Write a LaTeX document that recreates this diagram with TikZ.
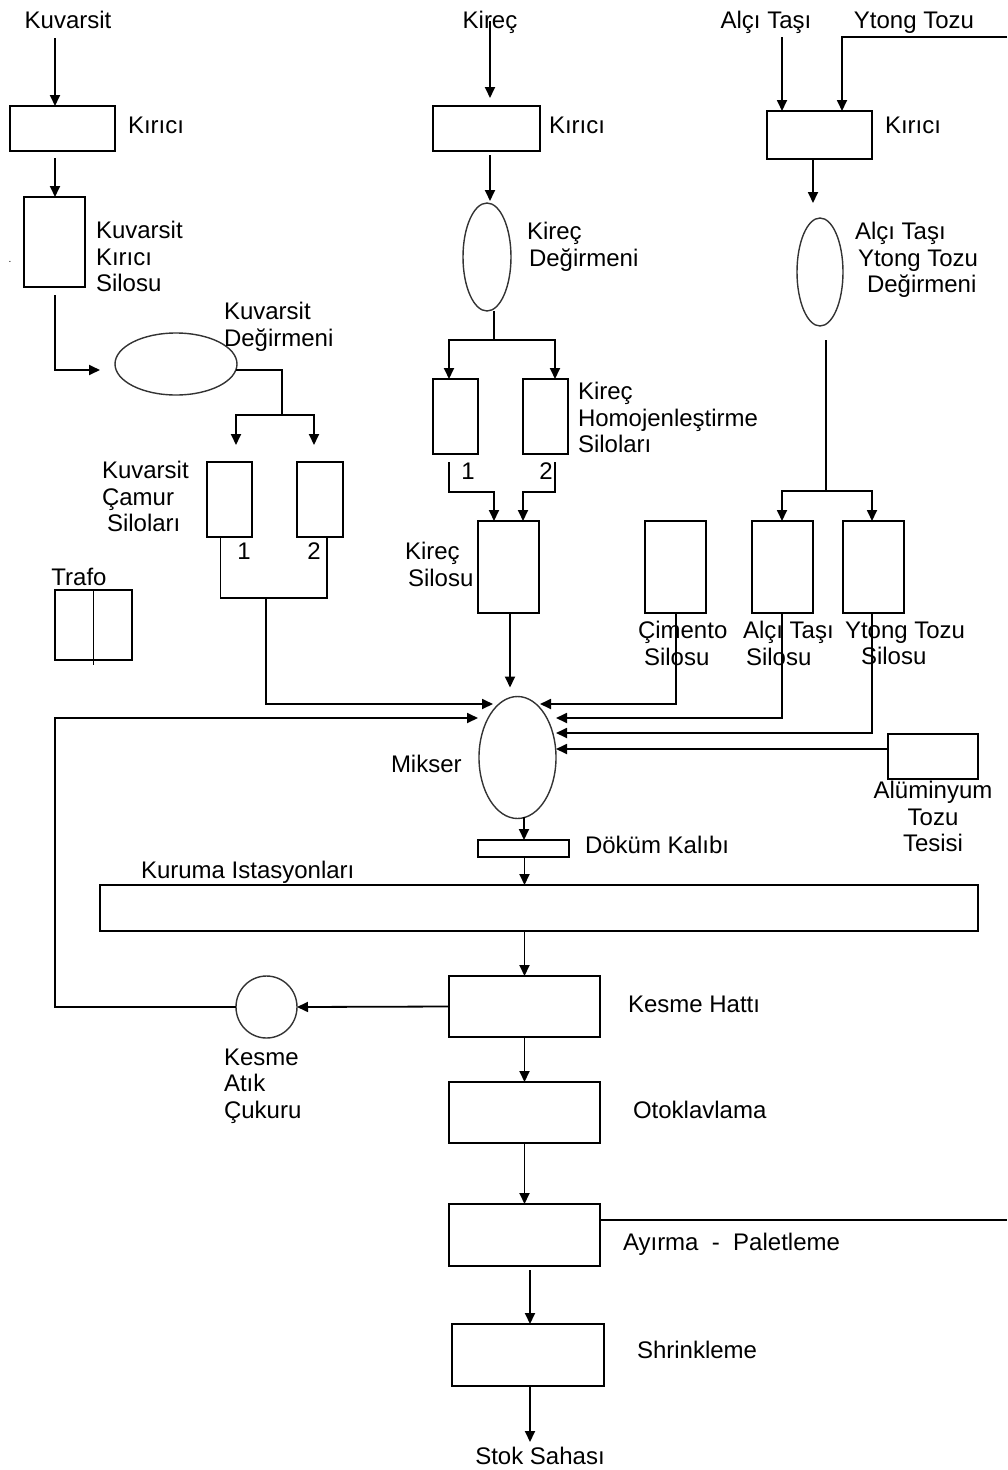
\documentclass[tikz,border=0pt]{standalone}
\usepackage{fontspec}
\setmainfont{Liberation Sans}
\usetikzlibrary{arrows.meta,shapes.geometric,calc}
\begin{document}
\begin{tikzpicture}[x=1pt,y=-1pt,
  font=\fontsize{24}{26.5}\selectfont,
  ln/.style={line width=1.8pt},
  arr/.style={line width=1.8pt,-{Triangle[length=11pt,width=10pt]}},
  bx/.style 2 args={draw,line width=1.8pt,inner sep=0pt,outer sep=0pt,minimum width=#1,minimum height=#2},
  el/.style 2 args={draw=black!80,line width=1.4pt,ellipse,inner sep=0pt,outer sep=0pt,minimum width=#1,minimum height=#2},
  lbl/.style={inner sep=0pt,outer sep=0pt,align=left,anchor=north west},
  lblc/.style={inner sep=0pt,outer sep=0pt,align=center,anchor=north}]
\useasboundingbox (0,0) rectangle (1007,1470);

% ---------- boxes ----------
\node[bx={105pt}{45pt}] (kir1) at (62.5,128.5) {};
\node[bx={61pt}{90pt}] (ksilo) at (54.5,242) {};
\node[el={122pt}{62pt}] (kdeg) at (176,364) {};
\node[bx={45pt}{75pt}] (cs1) at (229.5,499.5) {};
\node[bx={46pt}{75pt}] (cs2) at (320,499.5) {};
\node[bx={77pt}{70pt}] (trafo) at (93.5,625) {};
\node[bx={107pt}{45pt}] (kir2) at (486.5,128.5) {};
\node[el={48pt}{108pt}] (kdeg2) at (487,257) {};
\node[bx={45pt}{75pt}] (hs1) at (455.5,416.5) {};
\node[bx={45pt}{75pt}] (hs2) at (545.5,416.5) {};
\node[bx={61pt}{92pt}] (ksil) at (508.5,567) {};
\node[bx={105pt}{48pt}] (kir3) at (819.5,135) {};
\node[el={46pt}{108pt}] (adeg) at (820,272) {};
\node[bx={61pt}{92pt}] (cim) at (675.5,567) {};
\node[bx={61pt}{92pt}] (asil) at (782.5,567) {};
\node[bx={61pt}{92pt}] (ysil) at (873.5,567) {};
\node[bx={90pt}{45pt}] (alu) at (933,756.5) {};
\node[el={77pt}{122pt}] (mix) at (517.5,757.5) {};
\node[bx={91pt}{17pt}] (dok) at (523.5,848.5) {};
\node[bx={878pt}{46pt}] (kur) at (539,908) {};
\node[bx={151pt}{61pt}] (kes) at (524.5,1006.5) {};
\node[el={61pt}{62pt}] (atik) at (266.5,1007) {};
\node[bx={151pt}{61pt}] (oto) at (524.5,1112.5) {};
\node[bx={151pt}{62pt}] (ayr) at (524.5,1235) {};
\node[bx={152pt}{62pt}] (shr) at (528,1355) {};
\draw[ln] (trafo.north) -- ($(trafo.south)+(0,5)$);

% ---------- labels ----------
\node[lblc] (lkuv) at (68,11.5) {Kuvarsit};
\node[lbl] (lkir1) at (128,116.5) {Kırıcı};
\node[lbl] (lksilo) at (96,221.5) {Kuvarsit\\Kırıcı\\Silosu};
\node[inner sep=0pt] (ldot) at (10,262) {\fontsize{10}{10}\selectfont .};
\node[lbl] (lkdeg) at (224,302.5) {Kuvarsit\\Değirmeni};
\node[lbl] (lcs) at (102,461.5) {Kuvarsit\\Çamur\\\hspace*{5pt}Siloları};
\node[lblc] (lcs1) at (244,542.5) {1};
\node[lblc] (lcs2) at (314,542.5) {2};
\node[lblc] (ltrafo) at (79,568.5) {Trafo};
\node[lblc] (lkirec) at (490,11.5) {Kireç};
\node[lbl] (lkir2) at (549,116.5) {Kırıcı};
\node[lbl] (lkdeg2) at (527,222.5) {Kireç\\\hspace*{2pt}Değirmeni};
\node[lbl] (lhs) at (578,382.5) {Kireç\\Homojenleştirme\\Siloları};
\node[lblc] (lhs1) at (468,462.5) {1};
\node[lblc] (lhs2) at (546,462.5) {2};
\node[lbl] (lksil) at (405,542.5) {Kireç\\\hspace*{3pt}Silosu};
\node[lblc] (lalc) at (766,11.5) {Alçı Taşı};
\node[lblc] (lytong) at (914,11.5) {Ytong Tozu};
\node[lbl] (lkir3) at (885,116.5) {Kırıcı};
\node[lbl] (ladeg) at (855,222.5) {Alçı Taşı\\\hspace*{3pt}Ytong Tozu\\\hspace*{12pt}Değirmeni};
\node[lbl] (lcim) at (638,621.5) {Çimento\\\hspace*{6pt}Silosu};
\node[lbl] (lasil) at (743,621.5) {Alçı Taşı\\\hspace*{3pt}Silosu};
\node[lbl] (lysil) at (845,621.5) {Ytong Tozu\\\hspace*{16pt}Silosu};
\node[lbl] (lmix) at (391,755.5) {Mikser};
\node[lblc] (lalu) at (933,781.5) {Alüminyum\\Tozu\\Tesisi};
\node[lbl] (ldok) at (585,836.5) {Döküm Kalıbı};
\node[lbl] (lkur) at (141,861.5) {Kuruma Istasyonları};
\node[lbl] (lkes) at (628,995.5) {Kesme Hattı};
\node[lbl] (latik) at (224,1048.5) {Kesme\\Atık\\Çukuru};
\node[lbl] (loto) at (633,1101.5) {Otoklavlama};
\node[lbl] (layr) at (623,1233.5) {Ayırma \ - \ Paletleme};
\node[lbl] (lshr) at (637,1341.5) {Shrinkleme};
\node[lblc] (lstok) at (540,1447.5) {Stok Sahası};

% ---------- Kuvarsit line ----------
\coordinate (kuvIn) at (55,38);
\draw[arr] (kuvIn) -- (kuvIn |- kir1.north);
\draw[arr,shorten <=7pt] (kir1.south -| kuvIn) -- (ksilo.north -| kuvIn);
\draw[arr,shorten <=8pt,shorten >=15pt] (ksilo.south -| kuvIn) |- ($(kdeg.west)+(0,6)$);
\coordinate (kdb) at (282,415);
\draw[ln] ($(kdeg.east)+(-1,6)$) -| (kdb);
\draw[arr,shorten >=17pt] (kdb) -| ($(cs1.north)+(6.5,0)$);
\draw[arr,shorten >=17pt] (kdb) -| ($(cs2.north)+(-6,0)$);
\coordinate (csj) at (266,598);
\draw[ln] ($(cs1.south)+(-9,0)$) |- ($(cs2.south)+(7,61)$) -- ($(cs2.south)+(7,0)$);
\coordinate (mixL1) at (493,704);
\draw[arr] (csj) |- (mixL1);
\coordinate (fbBend) at (55,718);
\coordinate (mixL2) at (478,718);
\draw[arr] (atik.west) -| (fbBend) -- (mixL2);

% ---------- Kireç line ----------
\coordinate (kirIn) at (490,21);
\draw[arr,shorten >=8pt] (kirIn) -- (kirIn |- kir2.north);
\draw[arr,shorten <=4pt,shorten >=2pt] (kir2.south -| kirIn) -- (kdeg2.north -| kirIn);
\coordinate (hsb) at (494,340);
\draw[ln] (kdeg2.south -| hsb) -- (hsb);
\draw[arr] (hsb) -| ($(hs1.north)+(-6.5,0)$);
\draw[arr] (hsb) -| ($(hs2.north)+(9.5,0)$);
\draw[arr,shorten <=8pt] ($(hs1.south)+(-6.5,0)$) |- ($(ksil.north)+(-14.5,-29)$) -- ($(ksil.north)+(-14.5,0)$);
\draw[arr,shorten <=8pt] ($(hs2.south)+(9.5,0)$) |- ($(ksil.north)+(14.5,-29)$) -- ($(ksil.north)+(14.5,0)$);
\draw[arr,shorten >=9pt] ($(ksil.south)+(1.5,0)$) -- ($(mix.north)+(-7.5,0)$);

% ---------- Alçı / Ytong line ----------
\coordinate (alcIn) at (782,37);
\draw[arr] (alcIn) -- (alcIn |- kir3.north);
\coordinate (ytIn) at (1007,37);
\draw[arr] (ytIn) -| ($(kir3.north)+(22.5,0)$);
\draw[arr,shorten <=1pt,shorten >=15pt] ($(kir3.south)+(-6.5,0)$) -- ($(adeg.north)+(-7,0)$);
\coordinate (adb) at (826,491);
\draw[ln] ($(adeg.south)+(6,14)$) -- (adb);
\draw[arr] (adb) -| ($(asil.north)+(-0.5,0)$);
\draw[arr] (adb) -| ($(ysil.north)+(-1.5,0)$);

% ---------- into mixer ----------
\coordinate (mixR1) at (540,704);
\coordinate (mixR2) at (556,718);
\coordinate (mixR3) at (556,733);
\coordinate (mixR4) at (556,749);
\draw[arr] ($(cim.south)+(0.5,0)$) |- (mixR1);
\draw[arr] ($(asil.south)+(-0.5,0)$) |- (mixR2);
\draw[arr] ($(ysil.south)+(-1.5,0)$) |- (mixR3);
\draw[arr] (alu.west |- mixR4) -- (mixR4);

% ---------- main line down ----------
\draw[arr] ($(mix.south)+(6.5,-2)$) -- ($(dok.north)+(0.5,0)$);
\draw[arr] (dok.south -| kes.north) -- (kur.north -| kes.north);
\draw[arr] (kur.south -| kes.north) -- (kes.north);
\draw[arr] (kes.west) -- (atik.east);
\draw[arr] (kes.south) -- (oto.north);
\draw[arr] (oto.south) -- (ayr.north);
\coordinate (ayrOut) at (1007,1220);
\draw[ln] (ayr.east |- ayrOut) -- (ayrOut);
\coordinate (shrIn) at (530,1270);
\draw[arr] (shrIn) -- (shrIn |- shr.north);
\coordinate (stokEnd) at (530,1442);
\draw[arr] (shr.south -| stokEnd) -- (stokEnd);
\end{tikzpicture}
\end{document}
